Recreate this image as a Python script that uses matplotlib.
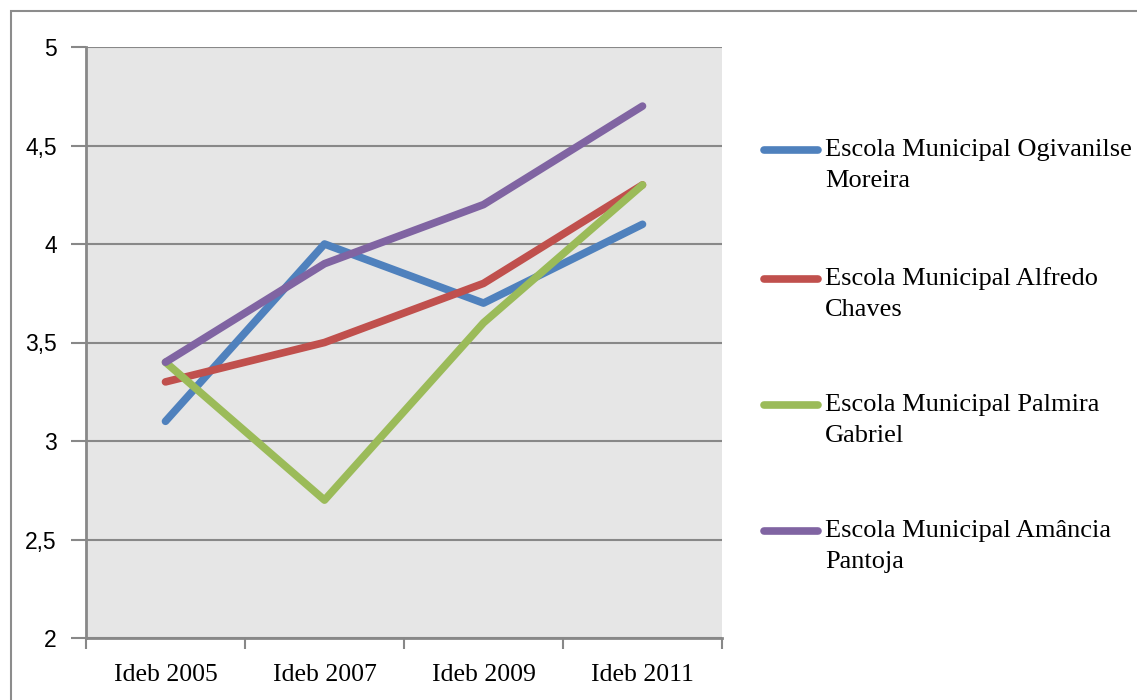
import matplotlib
matplotlib.use("Agg")
import matplotlib.pyplot as plt
from matplotlib.lines import Line2D
from matplotlib.patches import Rectangle

categories = ["Ideb 2005", "Ideb 2007", "Ideb 2009", "Ideb 2011"]
series_names = ["Escola Municipal Ogivanilse\nMoreira",
                "Escola Municipal Alfredo\nChaves",
                "Escola Municipal Palmira\nGabriel",
                "Escola Municipal Amância\nPantoja"]
ogivanilse = [3.1, 4.0, 3.7, 4.1]
alfredo = [3.3, 3.5, 3.8, 4.3]
palmira = [3.4, 2.7, 3.6, 4.3]
amancia = [3.4, 3.9, 4.2, 4.7]
yticks = [2, 2.5, 3, 3.5, 4, 4.5, 5]
ytick_labels = ["2", "2,5", "3", "3,5", "4", "4,5", "5"]

colors = ["#4F81BD", "#C0504D", "#9BBB59", "#8064A2"]
W, H = 1137, 700
fig = plt.figure(figsize=(W / 100, H / 100), dpi=100)

# outer frame
fig.patches.append(Rectangle((11 / W, -0.1), 1.2, (H - 11) / H + 0.1, transform=fig.transFigure,
                             fill=False, edgecolor="#8c8c8c", linewidth=1.5))

ax = fig.add_axes([86 / W, (H - 638) / H, (722 - 86) / W, (638 - 47) / H])
ax.set_facecolor("#E6E6E6")
x = range(len(categories))
data = [ogivanilse, alfredo, palmira, amancia]
for vals, c in zip(data, colors):
    ax.plot([i + 0.5 for i in x], vals, color=c, linewidth=5.5, solid_capstyle="round",
            solid_joinstyle="round", zorder=3)

ax.set_xlim(0, len(categories))
ax.set_ylim(2, 5)
ax.set_yticks(yticks)
ax.set_yticklabels(ytick_labels, fontfamily="Liberation Sans", fontsize=16.5)
ax.set_xticks([i + 0.5 for i in x])
ax.set_xticklabels(categories, fontfamily="Liberation Serif", fontsize=18.5)
ax.set_xticks(range(len(categories) + 1), minor=True)
ax.tick_params(axis="x", which="major", length=0, pad=19)
ax.tick_params(axis="x", which="minor", length=8, width=1.5, color="#888888")
ax.tick_params(axis="y", length=11, width=1.5, color="#888888", pad=10)
ax.grid(axis="y", color="#888888", linewidth=1.5, zorder=1)
ax.set_axisbelow(True)
for s in ["top", "right"]:
    ax.spines[s].set_visible(False)
for s in ["left", "bottom"]:
    ax.spines[s].set_color("#888888")
    ax.spines[s].set_linewidth(2)

# legend
legend_y = [150, 279, 405, 531]
for name, c, yy in zip(series_names, colors, legend_y):
    fig.add_artist(Line2D([764 / W, 818 / W], [(H - yy) / H] * 2, color=c, linewidth=5.5,
                          solid_capstyle="round", transform=fig.transFigure))
    for k, line in enumerate(name.split("\n")):
        fig.text(825 / W, (H - yy - 31 * k) / H, line, fontfamily="Liberation Serif",
                 fontsize=19, va="center", ha="left")

fig.savefig("out.png", dpi=100)
